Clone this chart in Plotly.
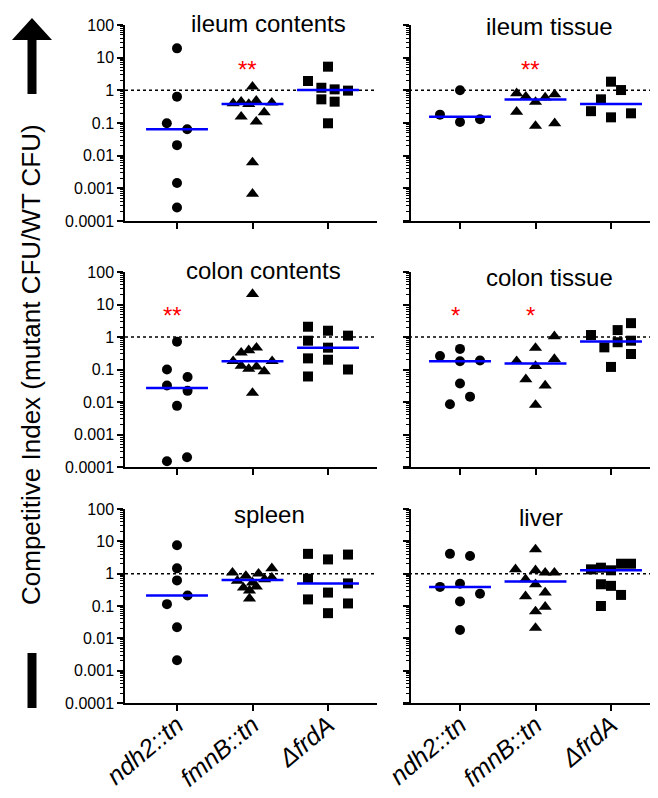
import numpy as np
import plotly.graph_objects as go

# page body has an 8px default margin: figure is drawn 8px in from the window corner
OFF = 8
WIN_W, WIN_H = 658, 798
W, H = WIN_W - OFF, WIN_H - OFF

STRAINS = ["ndh2::tn", "fmnB::tn", "ΔfrdA"]
TICK_LABELS = ["<i>ndh2::tn</i>", "<i>fmnB::tn</i>", "<i>ΔfrdA</i>"]
PANELS = ["ileum contents", "ileum tissue", "colon contents", "colon tissue", "spleen", "liver"]
Y_TICKS = [1e-4, 1e-3, 1e-2, 0.1, 1, 10, 100]
Y_TICK_LABELS = ["0.0001", "0.001", "0.01", "0.1", "1", "10", "100"]
Y_TITLE = "Competitive Index (mutant CFU/WT CFU)"

# ---- data: competitive index values per panel / strain ----
ileum_contents_ndh2 = [19.3, 0.64, 0.098, 0.064, 0.021, 0.00145, 0.00026]
ileum_contents_fmnB = [1.29, 0.40, 0.45, 0.38, 0.48, 0.42, 0.156, 0.21, 0.11, 0.0062, 0.00068]
ileum_contents_frdA = [5.3, 1.93, 1.2, 1.07, 0.98, 0.53, 0.45, 0.098]

ileum_tissue_ndh2 = [1.0, 0.18, 0.13, 0.107]
ileum_tissue_fmnB = [0.81, 0.64, 0.44, 0.6, 0.75, 0.22, 0.081, 0.098]
ileum_tissue_frdA = [1.84, 1.02, 0.53, 0.23, 0.149, 0.198]

colon_contents_ndh2 = [0.72, 0.1, 0.059, 0.032, 0.022, 0.0076, 0.0002, 0.00015]
colon_contents_fmnB = [21, 0.33, 0.39, 0.47, 0.18, 0.13, 0.104, 0.122, 0.088, 0.18, 0.019]
colon_contents_frdA = [2.07, 1.56, 1.1, 0.77, 0.47, 0.22, 0.2, 0.1, 0.061]

colon_tissue_ndh2 = [0.26, 0.43, 0.18, 0.19, 0.037, 0.0146, 0.0085]
colon_tissue_fmnB = [1.05, 0.46, 0.21, 0.18, 0.128, 0.05, 0.032, 0.0081]
colon_tissue_frdA = [1.15, 1.63, 2.67, 0.48, 0.69, 0.77, 0.30, 0.12]

spleen_ndh2 = [7.6, 1.46, 0.62, 0.21, 0.114, 0.022, 0.0021]
spleen_fmnB = [1.07, 0.85, 1.0, 1.46, 0.6, 0.53, 0.67, 0.75, 0.37, 0.4, 0.3, 0.17]
spleen_frdA = [4.1, 2.76, 3.9, 0.7, 0.5, 0.26, 0.16, 0.12, 0.06]

liver_ndh2 = [4.1, 3.5, 0.39, 0.49, 0.24, 0.137, 0.018]
liver_fmnB = [5.6, 1.36, 1.27, 1.07, 1.07, 0.67, 0.47, 0.2, 0.26, 0.094, 0.068, 0.021]
liver_frdA = [1.36, 1.53, 1.27, 2.03, 2.03, 0.47, 0.42, 0.22, 0.1]

# significance marks: (panel, strain index, label)
SIGNIFICANCE = [("ileum contents", 1, "**"), ("ileum tissue", 1, "**"),
                ("colon contents", 0, "**"), ("colon tissue", 0, "*"), ("colon tissue", 1, "*")]

# ---- presentation: horizontal scatter offsets (column-scatter layout) ----
JITTER = {
    "ileum contents": [[0, 0, -0.135, 0.135, 0, 0, 0],
                       [0, -0.256, -0.15, -0.05, 0.05, 0.256, -0.15, 0.155, 0.05, 0, 0],
                       [0, -0.265, -0.088, 0.088, 0.265, -0.088, 0.088, 0]],
    "ileum tissue": [[0, -0.265, 0.265, 0],
                     [-0.25, -0.128, 0, 0.128, 0.254, -0.25, 0, 0.254],
                     [0, 0.133, -0.133, -0.265, 0, 0.265]],
    "colon contents": [[0, -0.133, 0.14, -0.133, 0.14, 0, 0.133, -0.133],
                       [0, -0.15, -0.05, 0.053, -0.256, -0.15, -0.05, 0.053, 0.155, 0.26, 0],
                       [-0.265, 0, 0.265, -0.265, 0, -0.265, 0, 0.265, -0.265]],
    "colon tissue": [[-0.265, 0, 0, 0.265, 0, 0.133, -0.133],
                     [0.25, 0, 0.25, -0.25, 0, -0.128, 0.128, 0],
                     [-0.265, 0.088, 0.265, -0.088, 0.088, 0.265, 0.265, 0]],
    "spleen": [[0, 0, 0, 0.14, -0.133, 0, 0],
               [-0.265, -0.088, 0.08, 0.256, -0.2, 0.0, 0.16, 0.256, -0.12, 0.05, -0.04, -0.04],
               [-0.265, 0, 0.265, -0.265, 0.265, 0, -0.265, 0.265, 0]],
    "liver": [[-0.133, 0.133, -0.265, 0, 0.265, 0, 0],
              [0, -0.265, 0, 0.128, 0.25, -0.132, 0, -0.132, 0.128, 0.128, 0, 0],
              [-0.265, -0.133, 0, 0.133, 0.265, -0.133, 0, 0.133, -0.133]],
}

DATA = {
    "ileum contents": [ileum_contents_ndh2, ileum_contents_fmnB, ileum_contents_frdA],
    "ileum tissue": [ileum_tissue_ndh2, ileum_tissue_fmnB, ileum_tissue_frdA],
    "colon contents": [colon_contents_ndh2, colon_contents_fmnB, colon_contents_frdA],
    "colon tissue": [colon_tissue_ndh2, colon_tissue_fmnB, colon_tissue_frdA],
    "spleen": [spleen_ndh2, spleen_fmnB, spleen_frdA],
    "liver": [liver_ndh2, liver_fmnB, liver_frdA],
}

SYMBOLS = ["circle", "triangle-up", "square"]
SIZES = [10, 11.5, 10]
FONT = "Liberation Sans, Arial, Helvetica, sans-serif"


def px_x(v):
    return (v - OFF) / W


def px_y(v):
    return 1 - (v - OFF) / H


# panel geometry in window pixels
COL_X = [(125, 377, 125), (403, 658, 410)]   # domain left, right, y-axis position
ROW_Y = [(25, 221), (272, 467), (509, 703)]
TICK_PX = [(177, 328), (460, 611)]
TITLE_POS = {"ileum contents": (268, 24), "ileum tissue": (549, 26),
             "colon contents": (263, 270), "colon tissue": (549, 277),
             "spleen": (269, 514), "liver": (541, 517)}

fig = go.Figure()
layout = dict(width=W, height=H, margin=dict(l=0, r=0, t=0, b=0, pad=0, autoexpand=False),
              paper_bgcolor="white", plot_bgcolor="white", showlegend=False,
              font=dict(family=FONT, color="black"))
annotations = []
shapes = []

minor_vals = [k * 10.0 ** e for e in range(-4, 2) for k in range(2, 10)]

for p, name in enumerate(PANELS):
    row, col = p // 2, p % 2
    xs = "x" if p == 0 else f"x{p+1}"
    ys = "y" if p == 0 else f"y{p+1}"
    xl = "xaxis" if p == 0 else f"xaxis{p+1}"
    yl = "yaxis" if p == 0 else f"yaxis{p+1}"
    dl, dr, ypos = COL_X[col]
    t0, t2 = TICK_PX[col]
    spacing = (t2 - t0) / 2
    xr = [-(t0 - dl) / spacing, 2 + (dr - t2) / spacing]
    y0, y1 = ROW_Y[row]

    layout[xl] = dict(domain=[px_x(dl), min(1.0, px_x(dr))], range=xr, anchor=ys,
                      automargin=False,
                      showgrid=False, zeroline=False, showline=True, linecolor="black",
                      linewidth=1.5, ticks="outside", ticklen=6, tickwidth=1.5,
                      tickcolor="black", tickmode="array", tickvals=[0, 1, 2],
                      ticktext=TICK_LABELS, showticklabels=(row == 2), tickangle=-40,
                      ticklabelstandoff=-10,
                      tickfont=dict(size=25, family=FONT, color="black"))
    ydict = dict(domain=[px_y(y1), px_y(y0)], type="log", range=[-4, 2], automargin=False,
                 showgrid=False, zeroline=False, showline=True, linecolor="black",
                 linewidth=1.5, ticks="outside", ticklen=6, tickwidth=1.5,
                 tickcolor="black", tickmode="array", tickvals=Y_TICKS,
                 ticktext=Y_TICK_LABELS, showticklabels=(col == 0),
                 tickfont=dict(size=16, family=FONT, color="black"),
                 minor=dict(ticks="outside", ticklen=3, tickwidth=1, tickcolor="black",
                            tickmode="array", tickvals=minor_vals, showgrid=False))
    if col == 0:
        ydict["anchor"] = xs
    else:
        ydict["anchor"] = "free"
        ydict["position"] = px_x(ypos)
    layout[yl] = ydict

    # reference line at CI = 1
    shapes.append(dict(type="line", xref=f"{xs} domain", yref=ys, x0=0, x1=1,
                       y0=1, y1=1, line=dict(color="black", width=1.5, dash="dot"),
                       layer="below"))

    for i, vals in enumerate(DATA[name]):
        jit = JITTER[name][i]
        fig.add_trace(go.Scatter(
            x=[i + j for j in jit], y=vals, mode="markers", xaxis=xs, yaxis=ys,
            marker=dict(symbol=SYMBOLS[i], size=SIZES[i], color="black", line=dict(width=0)),
            cliponaxis=False, hoverinfo="skip"))
        med = float(np.median(vals))
        fig.add_trace(go.Scatter(
            x=[i - 0.41, i + 0.41], y=[med, med], mode="lines", xaxis=xs, yaxis=ys,
            line=dict(color="#0000ff", width=2.5), hoverinfo="skip"))

    tx, ty = TITLE_POS[name]
    annotations.append(dict(text=name, x=px_x(tx), y=px_y(ty), xref="paper", yref="paper",
                            showarrow=False, xanchor="center", yanchor="middle",
                            font=dict(size=24, family=FONT, color="black")))

    for (pn, si, lab) in SIGNIFICANCE:
        if pn == name:
            annotations.append(dict(text=lab, x=si - 0.06, y=np.log10(4.5), xref=xs, yref=ys,
                                    showarrow=False, xanchor="center", yanchor="middle",
                                    font=dict(size=24, family=FONT, color="#ff0000")))

# axis title
annotations.append(dict(text=Y_TITLE, x=px_x(31), y=px_y(365), xref="paper", yref="paper",
                        showarrow=False, textangle=-90, xanchor="center", yanchor="middle",
                        font=dict(size=26, family=FONT, color="black")))

# arrow (up) and bar decorations
def P(x, y):
    return f"{px_x(x):.5f},{px_y(y):.5f}"

arrow = ("M " + P(12, 40) + " L " + P(32, 18) + " L " + P(52, 40) + " L " + P(36.5, 40) +
         " L " + P(36.5, 94) + " L " + P(27.5, 94) + " L " + P(27.5, 40) + " Z")
shapes.append(dict(type="path", xref="paper", yref="paper", path=arrow,
                   fillcolor="black", line=dict(width=0)))
shapes.append(dict(type="rect", xref="paper", yref="paper", x0=px_x(27.5), x1=px_x(36.5),
                   y0=px_y(708), y1=px_y(653), fillcolor="black", line=dict(width=0)))

layout["annotations"] = annotations
layout["shapes"] = shapes
fig.update_layout(**layout)
fig.write_html("out.html")
